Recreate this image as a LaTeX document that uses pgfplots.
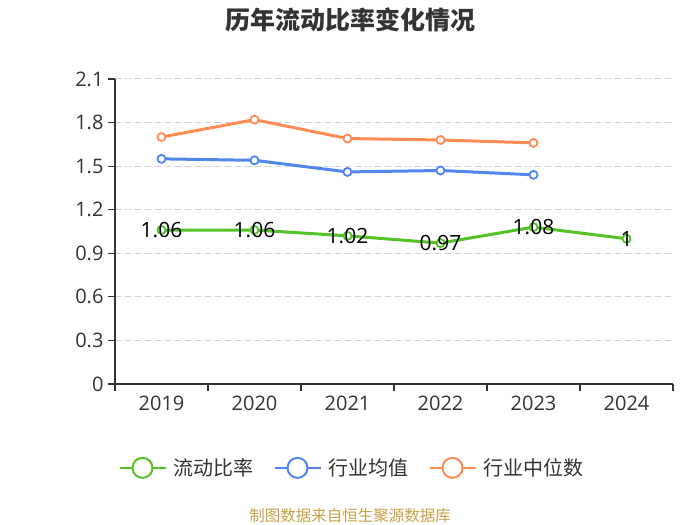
\documentclass[border=0pt]{standalone}
\usepackage{pgfplots}
\pgfplotsset{compat=1.18}
\usepackage{fontspec}
\setmainfont{Open Sans}
\newfontfamily\cjk{Noto Sans CJK SC}
\definecolor{cgreen}{HTML}{55C226}
\definecolor{cblue}{HTML}{5186EE}
\definecolor{corange}{HTML}{FF8C55}
\definecolor{cgrid}{HTML}{D0D0D0}
\definecolor{caxis}{HTML}{333333}
\definecolor{csrc}{HTML}{C9A046}
\begin{document}
\begin{tikzpicture}[x=1bp,y=1bp]
\useasboundingbox (0,0) rectangle (700,525);
\begin{axis}[
  at={(115bp,141bp)}, anchor=south west,
  scale only axis, width=558bp, height=305bp,
  xmin=-0.5, xmax=5.5, ymin=0, ymax=2.1,
  axis x line*=bottom, axis y line*=left,
  axis line style={caxis, line width=1.2bp, -},
  xtick={0,1,2,3,4,5},
  xticklabels={2019,2020,2021,2022,2023,2024},
  minor xtick={-0.5,0.5,1.5,2.5,3.5,4.5,5.5},
  major x tick style={draw=none},
  minor x tick style={caxis, line width=1.2bp},
  minor tick length=7bp,
  ytick={0,0.3,0.6,0.9,1.2,1.5,1.8,2.1},
  yticklabels={0,0.3,0.6,0.9,1.2,1.5,1.8,2.1},
  major y tick style={caxis, line width=1.2bp},
  major tick length=7bp,
  tick align=outside,
  ymajorgrids,
  grid style={cgrid, dashed, line width=1bp, dash pattern=on 6bp off 4bp},
  tick label style={font=\fontsize{20bp}{23bp}\selectfont, text=caxis},
  xticklabel style={yshift=-1bp},
  yticklabel style={xshift=-1bp},
  /pgf/number format/assume math mode=true,
  legend columns=3,
  legend style={at={(axis description cs:0.423,-0.275)}, anchor=center, draw=none,
    inner sep=0pt, nodes={inner sep=0pt},
    font=\cjk\fontsize{20bp}{23bp}\selectfont, text=caxis,
    /tikz/every odd column/.append style={column sep=7bp},
    /tikz/every even column/.append style={column sep=20bp}},
  legend image code/.code={
    \draw[#1, mark=none, line width=2bp] (0bp,0bp) -- (46bp,0bp);
    \draw[#1, mark=none, line width=2bp, fill=white] (23bp,0bp) circle (10bp);
  },
]
\addplot[cgreen, line width=3bp, mark=*, mark size=4bp,
  mark options={fill=white, line width=1.8bp},
  nodes near coords, point meta=explicit symbolic,
  every node near coord/.style={anchor=center, text=black, font=\fontsize{21bp}{24bp}\selectfont}]
  coordinates {(0,1.06)[1.06] (1,1.06)[1.06] (2,1.02)[1.02] (3,0.97)[0.97] (4,1.08)[1.08] (5,1.00)[1]};
\addlegendentry{流动比率}
\addplot[cblue, line width=3bp, mark=*, mark size=4bp, mark options={fill=white, line width=1.8bp}]
  coordinates {(0,1.55) (1,1.54) (2,1.46) (3,1.47) (4,1.44)};
\addlegendentry{行业均值}
\addplot[corange, line width=3bp, mark=*, mark size=4bp, mark options={fill=white, line width=1.8bp}]
  coordinates {(0,1.70) (1,1.82) (2,1.69) (3,1.68) (4,1.66)};
\addlegendentry{行业中位数}
\end{axis}
\node[font=\cjk\fontsize{25bp}{28bp}\selectfont\bfseries, text=caxis] at (350,505) {历年流动比率变化情况};
\node[font=\cjk\fontsize{15.5bp}{18bp}\selectfont, text=csrc] at (350,9) {制图数据来自恒生聚源数据库};
\end{tikzpicture}
\end{document}
